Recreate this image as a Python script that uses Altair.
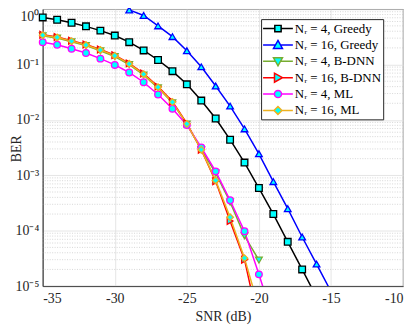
import altair as alt
import pandas as pd
import math

# ---------------- data ----------------
series_names = ["Nᵣ = 4, Greedy", "Nᵣ = 16, Greedy", "Nᵣ = 4, B-DNN",
                "Nᵣ = 16, B-DNN", "Nᵣ = 4, ML", "Nᵣ = 16, ML"]
colors = ["#000000", "#0000FF", "#77AC30", "#FF0000", "#FF00FF", "#EDB120"]
plot_shapes = ["square", "triangle-up", "triangle-down", "triangle-right", "circle", "diamond"]

snr_greedy4 = list(range(-35, -15))
ber_greedy4 = [0.71, 0.645, 0.57, 0.49, 0.41, 0.334, 0.254, 0.18, 0.121, 0.076,
               0.044, 0.0224, 0.0106, 0.0044, 0.0017, 5.9e-4, 2.0e-4, 6.3e-5, 2.0e-5, 6.3e-6]

snr_greedy16 = list(range(-29, -14))
ber_greedy16 = [0.97, 0.77, 0.50, 0.32, 0.178, 0.091, 0.041, 0.0178, 0.0069, 0.00245,
                7.7e-4, 2.5e-4, 7.7e-5, 2.5e-5, 8.0e-6]

snr_bdnn4 = list(range(-35, -19))
ber_bdnn4 = [0.33, 0.30, 0.258, 0.22, 0.178, 0.14, 0.10, 0.065, 0.038, 0.0205,
             0.0084, 0.0029, 1.1e-3, 3.3e-4, 8.1e-5, 2.95e-5]

snr_bdnn16 = list(range(-35, -19))
ber_bdnn16 = [0.345, 0.315, 0.27, 0.23, 0.187, 0.148, 0.105, 0.069, 0.040, 0.0215,
              0.0087, 0.0029, 7.8e-4, 1.5e-4, 3.0e-5, 2.0e-6]

snr_ml4 = list(range(-35, -18))
ber_ml4 = [0.254, 0.228, 0.193, 0.162, 0.128, 0.0986, 0.072, 0.048, 0.0288, 0.0159,
           0.0081, 0.0032, 0.00118, 3.55e-4, 9.8e-5, 1.63e-5, 2.5e-6]

snr_ml16 = list(range(-35, -19))
ber_ml16 = [0.339, 0.309, 0.265, 0.225, 0.183, 0.145, 0.103, 0.067, 0.039, 0.021,
            0.0085, 0.0029, 8.1e-4, 1.75e-4, 3.2e-5, 4.0e-6]

x_ticks = [-35, -30, -25, -20, -15, -10]
y_ticks = [1e-5, 1e-4, 1e-3, 1e-2, 1e-1, 1]
minor_y = [m * 10.0 ** k for k in range(-5, 0) for m in range(2, 10)]

# ---------------- tables ----------------
all_snr = [snr_greedy4, snr_greedy16, snr_bdnn4, snr_bdnn16, snr_ml4, snr_ml16]
all_ber = [ber_greedy4, ber_greedy16, ber_bdnn4, ber_bdnn16, ber_ml4, ber_ml16]
rows = []
for name, xs, ys in zip(series_names, all_snr, all_ber):
    for x, y in zip(xs, ys):
        rows.append({"series": name, "snr": x, "ber": y})
df = pd.DataFrame(rows)
df_pts = df[df["ber"] >= 1e-5]
minor_df = pd.DataFrame({"v": minor_y})
legend_df = pd.DataFrame({"series": series_names})

FONT = "Liberation Serif"
TXT = "#262626"

xscale = alt.Scale(domain=[-35, -10], nice=False, zero=False)
yscale = alt.Scale(type="log", domain=[1e-5, 1], nice=False)

sup = {"0": "⁰", "-1": "⁻¹", "-2": "⁻²", "-3": "⁻³", "-4": "⁻⁴", "-5": "⁻⁵"}
yexpr = "round(log(datum.value)/LN10)"
ylabel = "'10' + (" + " : ".join(
    [f"{yexpr} == {k} ? '{v}'" for k, v in sup.items()]) + " : '')"

x_enc = alt.X("snr:Q", scale=xscale,
              axis=alt.Axis(values=x_ticks, title="SNR (dB)", grid=True,
                            labelExpr="toString(datum.value)", ticks=False,
                            labelPadding=6, titlePadding=4))
y_enc = alt.Y("ber:Q", scale=yscale,
              axis=alt.Axis(values=y_ticks, title="BER", grid=True, ticks=False,
                            labelExpr=ylabel, labelPadding=4,
                            labelBaseline={"condition": {"test": "datum.value >= 1", "value": "top"},
                                           "value": "middle"},
                            titleX=-26, titleY=140, titleBaseline="middle"))

stroke_plot = alt.Scale(domain=series_names, range=colors)

minor = alt.Chart(minor_df).mark_rule(
    color="#cccccc", strokeDash=[1, 1.5], strokeWidth=0.8
).encode(y=alt.Y("v:Q", scale=yscale))

lines = alt.Chart(df).mark_line(clip=True, strokeWidth=1.5).encode(
    x=x_enc, y=y_enc,
    stroke=alt.Stroke("series:N", scale=stroke_plot, legend=None),
    detail="series:N", order="snr:Q")

points = alt.Chart(df_pts).mark_point(
    filled=True, fill="#00FFFF", opacity=1, strokeWidth=1.3, size=45
).encode(
    x="snr:Q", y="ber:Q",
    stroke=alt.Stroke("series:N", scale=stroke_plot, legend=None),
    shape=alt.Shape("series:N", scale=alt.Scale(domain=series_names, range=plot_shapes),
                    legend=None))

# legend symbols: line stub + marker, as custom symbol paths
LSIZE = 169
U = math.sqrt(LSIZE) / 2.0
C = 7.5      # marker centre shift (px)
HALF = 15.0  # half line length (px)


def f(v):
    return f"{v / U:.3f}"


def stub(xl, xr):
    return f"M{f(C - HALF)},0H{f(C + xl)}M{f(C + xr)},0H{f(C + HALF)}"


def poly(pts):
    return "M" + "L".join(f"{f(C + px)},{f(py)}" for px, py in pts) + "Z"


h = 3.2
r = 3.6
legend_paths = [
    stub(-h, h) + poly([(-h, -h), (h, -h), (h, h), (-h, h)]),
    stub(-2.5, 2.5) + poly([(0, -4.5), (4.5, 3.5), (-4.5, 3.5)]),
    stub(-2.5, 2.5) + poly([(0, 4.5), (4.5, -3.5), (-4.5, -3.5)]),
    stub(-3.5, 4.5) + poly([(4.5, 0), (-3.5, -4.5), (-3.5, 4.5)]),
    stub(-r, r) + f"M{f(C - r)},0A{f(r)},{f(r)} 0 1,0 {f(C + r)},0A{f(r)},{f(r)} 0 1,0 {f(C - r)},0Z",
    stub(-4, 4) + poly([(0, -4), (4, 0), (0, 4), (-4, 0)]),
]

leg = alt.Legend(orient="none", legendX=220, legendY=10, title=None,
                 padding=2, fillColor="white", strokeColor=TXT,
                 symbolSize=LSIZE, symbolStrokeWidth=1.5, symbolFillColor="#00FFFF",
                 labelFont=FONT, labelFontSize=13, labelColor="black",
                 labelOffset=17, rowPadding=1.5, labelLimit=0)

legend_layer = alt.Chart(legend_df).mark_point(
    filled=True, fill="#00FFFF", opacity=1, strokeWidth=1.5
).encode(
    stroke=alt.Stroke("series:N", scale=alt.Scale(domain=series_names, range=colors), legend=leg),
    shape=alt.Shape("series:N", scale=alt.Scale(domain=series_names, range=legend_paths), legend=leg),
).transform_filter("false")

chart = alt.layer(minor, lines, points, legend_layer).resolve_scale(
    stroke="independent", shape="independent"
).properties(
    width=363, height=279,
    autosize=alt.AutoSizeParams(type="none"),
    padding={"left": 35, "top": 0, "right": 4, "bottom": 40},
).configure_view(stroke=TXT, strokeWidth=0.8).configure_axis(
    labelFont=FONT, labelFontSize=14, labelColor=TXT,
    titleFont=FONT, titleFontSize=14, titleFontWeight="normal", titleColor=TXT,
    domainColor=TXT, domainWidth=0.8, gridColor="#dedede", gridWidth=0.8,
).configure_legend(labelFont=FONT)

chart.save("out.html", embed_options={"renderer": "svg", "actions": False})
